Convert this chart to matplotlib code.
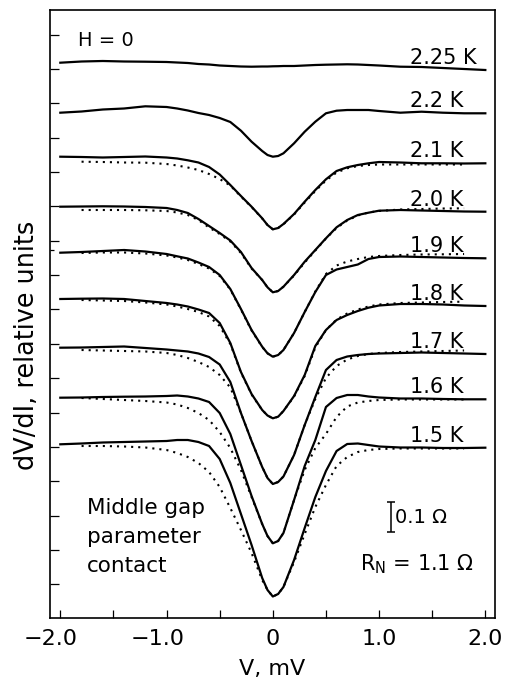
import numpy as np
import matplotlib
matplotlib.use("Agg")
import matplotlib.pyplot as plt
from matplotlib.transforms import ScaledTranslation

plt.rcParams['font.family'] = ['DejaVu Sans']

# ---------------- data ----------------
# bias voltage, mV
V = [-2.0, -1.8, -1.6, -1.4, -1.2, -1.0, -0.9, -0.8, -0.7, -0.6, -0.5, -0.4,
     -0.3, -0.2, -0.1, -0.05, 0.0, 0.05, 0.1, 0.2, 0.3, 0.4, 0.5, 0.6, 0.7,
     0.8, 0.9, 1.0, 1.2, 1.4, 1.6, 1.8, 2.0]
# the fitted curves span a slightly shorter voltage range
V_fit = V[1:-1]

temperatures = ["2.25 K", "2.2 K", "2.1 K", "2.0 K", "1.9 K", "1.8 K",
                "1.7 K", "1.6 K", "1.5 K"]

# measured dV/dI, relative units (curves shifted vertically)
dvdi_225 = [555.3, 556.5, 557, 556.5, 556.3, 556, 555.5, 555, 554, 553.5, 552.5, 552,
            551.5, 551.3, 551.5, 551.5, 551.7, 551.8, 552, 552, 552.5, 553, 553.3, 553.5,
            553.7, 553.5, 553, 552.5, 551.3, 551, 550, 549, 548]
dvdi_22 = [505.3, 506.5, 508.5, 509.5, 511.7, 511, 509.5, 507.5, 505, 503, 500, 496,
           487.3, 476.3, 467, 463, 461.3, 462, 464.7, 474.7, 486.3, 496.3, 504.7, 507.3,
           508, 508, 508, 507, 505.3, 506.3, 505.3, 504.7, 504.7]
dvdi_21 = [461.3, 461, 460.5, 461, 461.5, 460.5, 459.5, 457.7, 455.5, 451, 443.5, 433,
           422, 411.3, 399.7, 393, 388.7, 390, 394, 404, 416.3, 428, 438.7, 447,
           450.7, 453, 454.7, 456, 455.5, 454.7, 454.7, 454.5, 454.7]
dvdi_20 = [411.3, 411.5, 411.7, 411.5, 411, 410, 408, 405, 399, 392, 385, 377.5,
           366, 350, 338, 330.7, 325.7, 327, 331.3, 343, 356.3, 368, 379.7, 390.7,
           398, 403, 405.3, 407.3, 408, 407.5, 407, 406.5, 406.3]
dvdi_19 = [365.3, 366, 367, 368, 366.5, 364, 361.7, 359.5, 355.5, 351, 343, 329,
           309, 288, 271.3, 264.7, 261.3, 263, 268, 285, 306, 326, 343, 348.5,
           351, 353.5, 359, 361, 361.5, 361, 360.5, 360, 359.7]
dvdi_18 = [319, 319.3, 319.5, 319, 317, 315, 313.5, 311.5, 308.5, 305, 295, 275,
           246, 224, 208, 202.5, 199.7, 201.3, 207, 222, 243, 272, 288, 298,
           303, 307, 310.3, 312.5, 314, 314, 313.5, 312.5, 312]
dvdi_17 = [270.3, 270.5, 271, 271.5, 270, 268.5, 267.5, 266.5, 264.5, 261, 253.5, 236,
           205, 177, 151, 140, 134, 136, 141.5, 163, 193, 221, 248, 258,
           261.5, 263, 264, 264.5, 265, 265.5, 265, 264.5, 264]
dvdi_16 = [220.3, 220.5, 221, 221.3, 221.5, 222, 222.5, 221.5, 219.5, 216, 205, 184,
           153, 122, 94, 82, 74.7, 77, 85, 118, 152, 178, 211, 220,
           223, 223, 221.5, 220.5, 219.5, 219.5, 219, 218.7, 218.7]
dvdi_15 = [173.7, 174.5, 175.5, 176, 176.5, 177, 178, 178, 176, 172, 159, 135,
           104, 73, 40, 28, 21.5, 24, 31, 58, 90, 121, 147, 167,
           174, 174.5, 173, 171.5, 170.5, 170.5, 170, 170, 170.3]

# theoretical fits (dotted), same units
fit_21 = [456.3, 456, 455.5, 455.3, 454, 452.5, 450.5, 448, 444, 439, 432.5, 421.5,
          411, 399.5, 393, 388.7, 390, 393.7, 403.5, 415.5, 427, 437.5, 445.5, 449.7,
          452, 453, 453.5, 453.5, 453.5, 453.5, 453.5]
fit_20 = [408, 408, 408, 407.7, 407, 405.5, 403, 398, 390.5, 384, 376.5, 365,
          349.5, 338, 330.7, 325.7, 327, 331.3, 342.5, 355.5, 367.5, 379.5, 390, 397.5,
          402.5, 405.5, 407, 408.5, 409, 409.5, 409.7]
fit_19 = [365, 365.5, 365.5, 364.5, 362.5, 360.5, 358, 354, 349.5, 342, 328.5, 308.5,
          287.5, 271, 264.7, 261.3, 263, 268, 285, 306, 326.5, 344, 352.5, 356.5,
          359, 361, 362, 363, 363.5, 363.7, 364]
fit_18 = [318, 317.5, 317, 315.5, 313.5, 311.5, 309, 306, 301.5, 292, 274, 245.5,
          223.5, 208, 202.5, 199.7, 201.3, 207, 221.5, 242, 270.5, 288, 298.5, 304.5,
          308.5, 311.5, 313.5, 315, 315.5, 316, 316.3]
fit_17 = [268, 267.5, 267, 266.5, 265, 263, 260, 256, 251, 243, 230.5, 205,
          177, 151, 140, 134, 136, 141.5, 163, 193, 219, 240, 252, 258.5,
          262, 264, 265, 266, 266.5, 267, 267.5]
fit_16 = [220, 219, 218, 217, 215.5, 213.5, 210, 205, 198, 186, 170, 148,
          121, 94, 82, 74.7, 77, 85, 118, 148, 170, 184, 201, 211.5,
          215.5, 217, 218, 218.5, 218.5, 218.5, 218.5]
fit_15 = [172, 172, 171.5, 170.5, 168, 165, 161, 155, 146, 131, 110, 88,
          65, 38, 28, 21.5, 24, 31, 56, 84, 111, 133, 152, 161,
          166, 168, 169, 169.5, 169.5, 169.5, 169.5]

measured = [dvdi_225, dvdi_22, dvdi_21, dvdi_20, dvdi_19, dvdi_18, dvdi_17, dvdi_16, dvdi_15]
fits = [None, None, fit_21, fit_20, fit_19, fit_18, fit_17, fit_16, fit_15]

units_per_ohm = 300.0     # vertical scale: 0.1 Ohm bar
scale_bar_ohm = 0.1

# ---------------- figure ----------------
fig = plt.figure(figsize=(5.10, 6.84), dpi=100)
ax = fig.add_axes([50/510, 66/684, 445/510, 608/684])

for T, y, yf in zip(temperatures, measured, fits):
    if yf is not None:
        ax.plot(V_fit, yf, color='black', lw=1.5, ls=(0, (1, 2.4)), zorder=2)
    ax.plot(V, y, color='black', lw=1.6, zorder=3, solid_joinstyle='round')
    ax.text(1.29, y[-1] + 6, T, fontsize=15, ha='left', va='baseline')

ax.set_xlim(-2.097, 2.091)
ax.set_ylim(0, 608)

# ticks
ax.set_xticks([-2.0, -1.5, -1.0, -0.5, 0.0, 0.5, 1.0, 1.5, 2.0])
ax.set_xticklabels([])
ax.set_yticks(np.arange(33.7, 590, 34.35))
ax.set_yticks([368], minor=True)
ax.set_yticklabels([])
ax.tick_params(axis='x', direction='in', length=5.8, width=0.9)
ax.tick_params(axis='y', which='major', direction='in', length=6.5, width=0.9)
ax.tick_params(axis='y', which='minor', direction='in', length=3, width=0.9)
for s in ax.spines.values():
    s.set_linewidth(1.2)

# manual x tick labels (numerals centred on the tick, minus sign hanging left)
xt_pos = [-2.0, -1.0, 0.0, 1.0, 2.0]
xt_txt = ['\u22122.0', '\u22121.0', '0', '1.0', '2.0']
trans = ax.get_xaxis_transform()
for p, t in zip(xt_pos, xt_txt):
    dx = -0.093 if t.startswith('\u2212') else 0.0
    ax.text(p, 0, t, transform=trans + ScaledTranslation(dx, -0.11, fig.dpi_scale_trans),
            ha='center', va='top', fontsize=16, clip_on=False)

fig.text(272/510, (684-675)/684, 'V, mV', ha='center', va='baseline', fontsize=16)
fig.text(27/510, (684-345)/684, 'dV/dI, relative units', rotation=90,
         ha='center', va='center', fontsize=18.4)

# annotations
ax.text(-1.833, 572, 'H = 0', fontsize=14, ha='left', va='baseline')
for txt, yb in zip(['Middle gap', 'parameter', 'contact'], [104, 75, 46.3]):
    ax.text(-1.75, yb, txt, fontsize=15.5, ha='left', va='baseline')

bar_len = scale_bar_ohm * units_per_ohm
ax.errorbar([1.110], [101.3], yerr=[bar_len / 2], color='black', lw=1.1,
            capsize=3.2, capthick=1.1)
ax.text(1.15, 94.7, '0.1 \u03a9', fontsize=14, ha='left', va='baseline')
ax.text(0.82, 47.3, r'R$_\mathregular{N}$ = 1.1 \u03a9'.replace('\\u03a9', '\u03a9'),
        fontsize=15, ha='left', va='baseline')

fig.savefig('out.png', dpi=100, facecolor='white')
